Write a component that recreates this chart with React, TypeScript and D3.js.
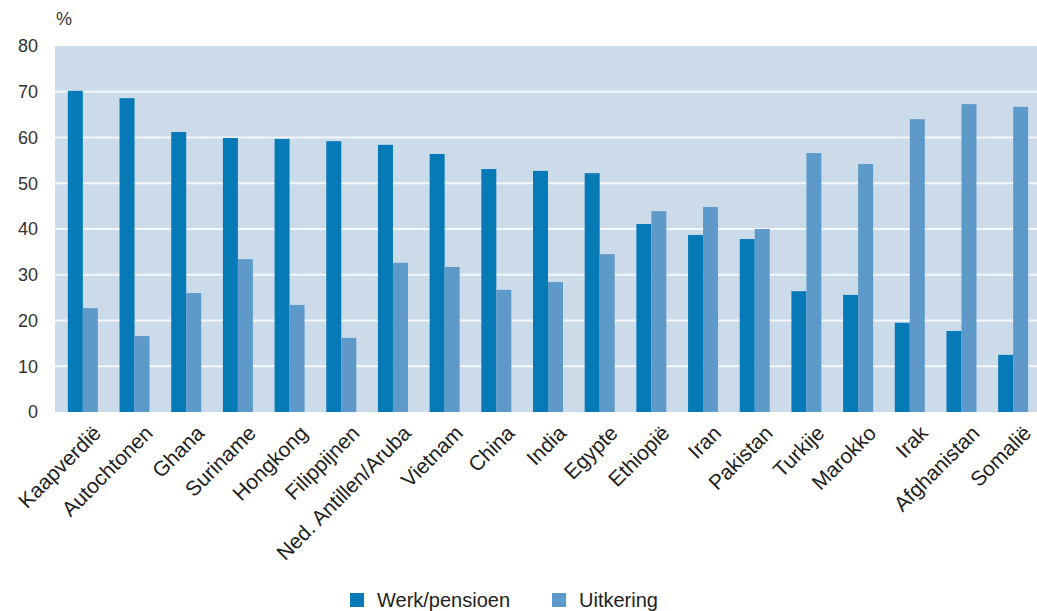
import React from "react";
import * as d3 from "d3";

const categories = ["Kaapverdië","Autochtonen","Ghana","Suriname","Hongkong","Filippijnen","Ned. Antillen/Aruba","Vietnam","China","India","Egypte","Ethiopië","Iran","Pakistan","Turkije","Marokko","Irak","Afghanistan","Somalië"];
const werk = [70.2,68.6,61.2,59.9,59.7,59.2,58.4,56.4,53.1,52.7,52.2,41.1,38.7,37.8,26.4,25.6,19.5,17.7,12.5];
const uitkering = [22.7,16.6,26.0,33.4,23.4,16.2,32.6,31.7,26.7,28.4,34.5,43.9,44.8,40.0,56.6,54.2,64.0,67.3,66.7];
const yTicks = [0,10,20,30,40,50,60,70,80];
const seriesNames = ["Werk/pensioen","Uitkering"];
const colors = ["#067ab7","#5e9ac9"];

export default function App() {
  const W = 1037, H = 611;
  const left = 55, right = 1037, top = 46, bottom = 412;
  const x = d3.scaleBand<string>().domain(categories).range([57, 1039]);
  const y = d3.scaleLinear().domain([0, 80]).range([bottom, top]);
  const bw = 15;
  const font = "'Liberation Sans', Arial, Helvetica, sans-serif";
  return (
    <svg width={W} height={H} style={{ position: "absolute", left: 0, top: 0 }} fontFamily={font}>
      <rect x={left} y={top} width={right - left} height={bottom - top} fill="#ccdbea" />
      {yTicks.filter(t => t > 0 && t < 80).map(t => (
        <line key={t} x1={left} x2={right} y1={y(t)} y2={y(t)} stroke="#f4f7fb" strokeWidth={2} />
      ))}
      {yTicks.map(t => (
        <text key={t} x={38} y={y(t)} dy="0.36em" textAnchor="end" fontSize={18} fill="#333">{t}</text>
      ))}
      <text x={56} y={25} fontSize={18} fill="#333">%</text>
      {categories.map((c, i) => {
        const cx = (x(c) as number) + x.bandwidth() / 2;
        return (
          <g key={c}>
            <rect x={cx - bw} y={y(werk[i])} width={bw} height={bottom - y(werk[i])} fill={colors[0]} />
            <rect x={cx} y={y(uitkering[i])} width={bw} height={bottom - y(uitkering[i])} fill={colors[1]} />
            <text transform={`translate(${cx + 9},${424}) rotate(-45)`} textAnchor="end" dy="0.7em" fontSize={21} fill="#222">{c}</text>
          </g>
        );
      })}
      {seriesNames.map((s, i) => {
        const lx = i === 0 ? 350 : 552;
        return (
          <g key={s}>
            <rect x={lx} y={593} width={14} height={14} fill={colors[i]} />
            <text x={lx + 27} y={607} fontSize={20} fill="#222">{s}</text>
          </g>
        );
      })}
    </svg>
  );
}
